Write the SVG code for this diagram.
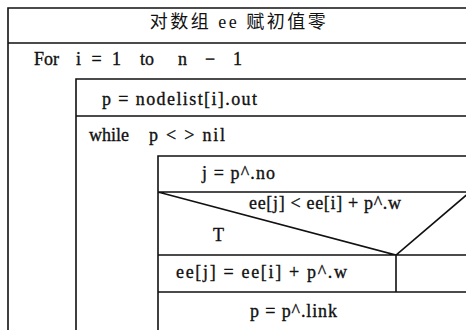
<svg xmlns="http://www.w3.org/2000/svg" width="466" height="330" viewBox="0 0 466 330">
<style>
.ln{stroke:#111;stroke-width:1.6;fill:none}
.t{font-family:'Liberation Serif','DejaVu Serif',serif;font-size:18px;fill:#111;stroke:#111;stroke-width:0.35}
.c{font-family:'Liberation Serif','Noto Sans CJK SC',serif;font-size:18px;fill:#111}
</style>
<rect width="466" height="330" fill="#fff"/>
<g id="connectors">
<path class="ln" d="M8,330 V8 H470 M8,43 H470 M76,330 V79 H470 M76,116 H470 M158,330 V156 H470 M158,192 H470 M158,255 H470 M158,292 H470 M396,255 V292 M158,192 L396,255 L470,192"/>
</g>
<g id="init"><text class="c" x="239" y="28" text-anchor="middle" letter-spacing="2.5">对数组 ee 赋初值零</text></g>
<g id="for"><text class="t" x="34" y="65">For</text><text class="t" x="76" y="65" textLength="45" lengthAdjust="spacing">i = 1</text><text class="t" x="140" y="65">to</text><text class="t" x="178" y="65" textLength="64" lengthAdjust="spacing">n − 1</text></g>
<g id="assign-p"><text class="t" x="102" y="105" textLength="155" lengthAdjust="spacing">p = nodelist[i].out</text></g>
<g id="while"><text class="t" x="89" y="141">while</text><text class="t" x="149" y="141" textLength="76" lengthAdjust="spacing">p &lt; &gt; nil</text></g>
<g id="assign-j"><text class="t" x="202" y="179" textLength="73" lengthAdjust="spacing">j = p^.no</text></g>
<g id="cond"><text class="t" x="249" y="209" textLength="152" lengthAdjust="spacing">ee[j] &lt; ee[i] + p^.w</text><text class="t" x="213" y="241">T</text></g>
<g id="update"><text class="t" x="176" y="278" textLength="171" lengthAdjust="spacing">ee[j] = ee[i] + p^.w</text></g>
<g id="next"><text class="t" x="250" y="317" textLength="87" lengthAdjust="spacing">p = p^.link</text></g>
</svg>
